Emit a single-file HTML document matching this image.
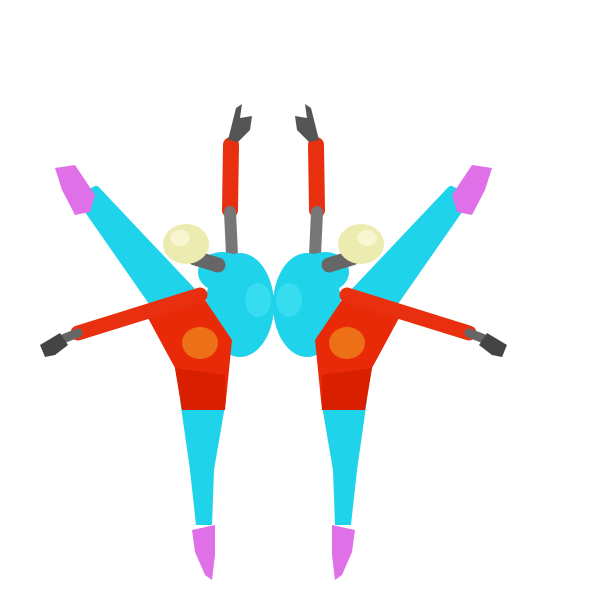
<!DOCTYPE html>
<html><head><meta charset="utf-8"><style>html,body{margin:0;padding:0;background:#fff;width:590px;height:612px;overflow:hidden}</style></head>
<body>
<svg width="590" height="612" viewBox="0 0 590 612">
<defs>
<g id="dancer">
  <!-- raised leg (tapered) -->
  <path d="M80,198 L96,190 L200,300 L172,330 Z" fill="#1fd3ea" stroke="#1fd3ea" stroke-width="8" stroke-linejoin="round"/>
  <path d="M55,168 L75,165 L95,195 L90,212 L75,215 L62,190 Z" fill="#e070e8"/>
  <!-- raised arm -->
  <line x1="231" y1="145" x2="230" y2="210" stroke="#e83010" stroke-width="16" stroke-linecap="round"/>
  <line x1="230" y1="212" x2="232" y2="255" stroke="#777" stroke-width="12" stroke-linecap="round"/>
  <path d="M228,140 L236,108 L242,104 L240,118 L252,116 L250,130 L238,142 Z" fill="#555"/>
  <!-- standing leg (tapered) -->
  <path d="M180,400 L226,400 L214,470 L212,525 L196,525 L190,470 Z" fill="#1fd3ea"/>
  <path d="M192,530 L215,525 L215,555 L212,580 L205,575 L195,552 Z" fill="#e070e8"/>
  <!-- torso -->
  <ellipse cx="240" cy="305" rx="34" ry="52" fill="#1fd3ea"/>
  <ellipse cx="222" cy="272" rx="24" ry="20" fill="#1fd3ea"/>
  <ellipse cx="258" cy="300" rx="13" ry="17" fill="#36dcf0"/>
  <!-- hips / shorts -->
  <path d="M148,318 L205,300 L232,340 L225,410 L182,410 L175,368 Z" fill="#e82a08"/>
  <ellipse cx="200" cy="343" rx="18" ry="16" fill="#f0a020" opacity="0.6"/>
  <path d="M175,368 L225,375 L225,410 L182,410 Z" fill="#d82000"/>
  <!-- horizontal arm -->
  <line x1="200" y1="295" x2="78" y2="333" stroke="#e83010" stroke-width="15" stroke-linecap="round"/>
  <line x1="78" y1="333" x2="60" y2="340" stroke="#666" stroke-width="9" stroke-linecap="round"/>
  <path d="M40,345 L60,333 L68,345 L55,355 L45,357 Z" fill="#444"/>
  <!-- neck & head -->
  <line x1="195" y1="258" x2="218" y2="265" stroke="#666" stroke-width="15" stroke-linecap="round"/>
  <ellipse cx="186" cy="244" rx="23" ry="20" fill="#ecebb0"/>
  <ellipse cx="180" cy="238" rx="10" ry="8" fill="#f8f6d0"/>
</g>
</defs>
<g><use href="#dancer"/></g>
<g transform="translate(547,0) scale(-1,1)"><use href="#dancer"/></g>
</svg>
</body></html>
